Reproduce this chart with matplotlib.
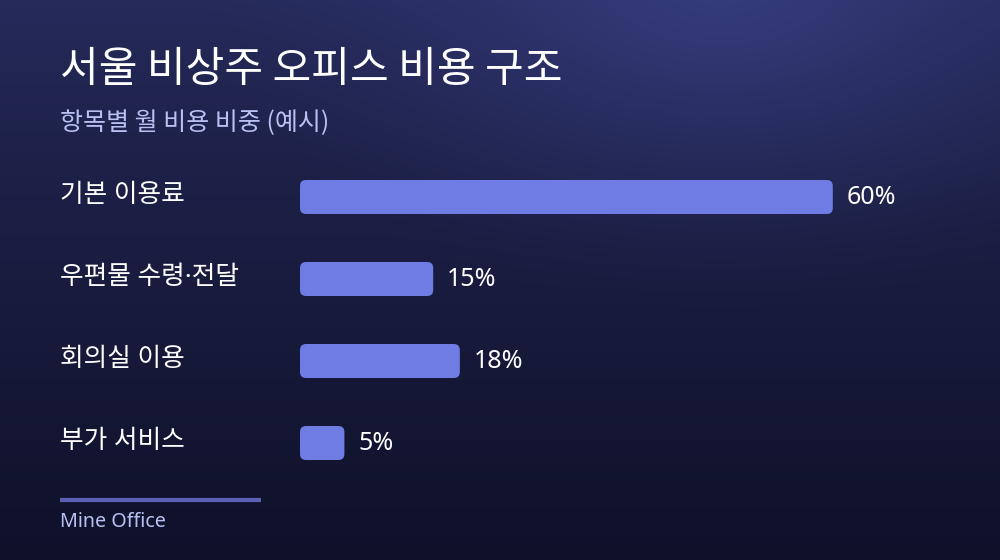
import numpy as np
import matplotlib.pyplot as plt
from matplotlib.patches import FancyBboxPatch
from matplotlib.colors import to_rgb

plt.rcParams['font.family'] = ['Noto Sans CJK KR', 'DejaVu Sans']
latin = ['Noto Sans', 'Noto Sans CJK KR']

# data
categories = ['기본 이용료', '우편물 수령·전달', '회의실 이용', '부가 서비스']
shares = [60, 15, 18, 5]
title = '서울 비상주 오피스 비용 구조'
subtitle = '항목별 월 비용 비중 (예시)'
source = 'Mine Office'

W, H = 1000, 560
fig = plt.figure(figsize=(10, 5.6), dpi=100)

# background: vertical gradient plus a soft glow at the top right
bg = fig.add_axes([0, 0, 1, 1])
bg.set_xlim(0, W)
bg.set_ylim(H, 0)
bg.axis('off')
yy, xx = np.mgrid[0:H, 0:W]
top = np.array(to_rgb('#262b5c'))
bottom = np.array(to_rgb('#0f1129'))
t = (yy / H)[..., None] ** 0.8
img = top * (1 - t) + bottom * t
glow = np.array(to_rgb('#363d7e'))
d = np.sqrt(((xx - 720) / 520.0) ** 2 + ((yy + 20) / 330.0) ** 2)
g = np.clip(1 - d, 0, 1)[..., None] ** 1.5
img = img * (1 - g) + glow * g
bg.imshow(img, extent=[0, W, H, 0], aspect='auto', zorder=0)

bg.text(60, 70, title, color='white', fontsize=30.3, fontweight='medium', va='center')
bg.text(60, 123, subtitle, color='#b9c0f2', fontsize=18, va='center')
for i, lab in enumerate(categories):
    bg.text(60, 195 + 82 * i, lab, color='white', fontsize=18.5, va='center', family=latin)
bg.plot([60, 261], [500, 500], color='#5b60b4', lw=3, solid_capstyle='butt')
bg.text(60, 522, source, color='#b9c0f2', fontsize=14.2, va='center', family=latin)

# bar area
x0, x1 = 300, 966
ax = fig.add_axes([x0 / W, (H - 460) / H, (x1 - x0) / W, 280 / H])
ax.set_xlim(0, 75)
ax.set_ylim(3.5 - (82 - 34) / 82 / 2, -0.5 + (82 - 34) / 82 / 2)
ax.axis('off')
ax.patch.set_alpha(0)

bar_h = 34 / 82
px_x = (x1 - x0) / 75.0
px_y = 280 / (ax.get_ylim()[0] - ax.get_ylim()[1])
r = 6 / px_x
aspect = (6 / px_y) / r
for i, v in enumerate(shares):
    box = FancyBboxPatch((0, i - bar_h / 2), v, bar_h,
                         boxstyle=f'round,pad=0,rounding_size={r}',
                         mutation_aspect=aspect,
                         facecolor='#6f7ce3', edgecolor='none')
    ax.add_patch(box)
    ax.text(v + 14 / px_x, i, f'{v}%', color='white', fontsize=18,
            va='center', family=latin)

fig.savefig('out.png', dpi=100)
